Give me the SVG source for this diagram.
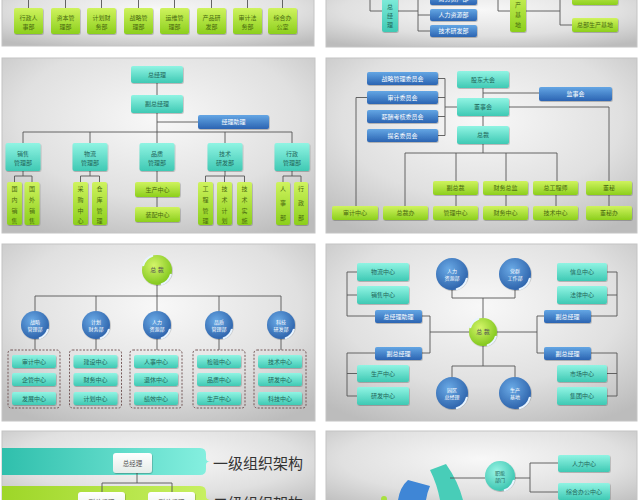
<svg xmlns="http://www.w3.org/2000/svg" width="640" height="500" viewBox="0 0 640 500">
<defs>
<radialGradient id="pg" cx="50%" cy="35%" r="75%"><stop offset="0" stop-color="#f8f8f8"/><stop offset="0.6" stop-color="#e0e0e0"/><stop offset="1" stop-color="#bcbcbc"/></radialGradient>
<linearGradient id="gG" x1="0" y1="0" x2="0" y2="1"><stop offset="0" stop-color="#cff35e"/><stop offset="1" stop-color="#8ccf1d"/></linearGradient>
<linearGradient id="gT" x1="0" y1="0" x2="0" y2="1"><stop offset="0" stop-color="#90f4e3"/><stop offset="1" stop-color="#3fc9b4"/></linearGradient>
<linearGradient id="gB" x1="0" y1="0" x2="0" y2="1"><stop offset="0" stop-color="#64a6e4"/><stop offset="1" stop-color="#2b64b2"/></linearGradient>
<radialGradient id="gBC" cx="40%" cy="35%" r="70%"><stop offset="0" stop-color="#6aaae6"/><stop offset="1" stop-color="#2a5fa8"/></radialGradient>
<radialGradient id="gGC" cx="40%" cy="35%" r="70%"><stop offset="0" stop-color="#d4f56a"/><stop offset="1" stop-color="#7cc418"/></radialGradient>
<radialGradient id="gTC" cx="40%" cy="35%" r="70%"><stop offset="0" stop-color="#9af5e6"/><stop offset="1" stop-color="#36c2ad"/></radialGradient>
<linearGradient id="bandT" x1="0" y1="0" x2="1" y2="0"><stop offset="0" stop-color="#2fbfac"/><stop offset="1" stop-color="#86f0e0"/></linearGradient>
<linearGradient id="bandG" x1="0" y1="0" x2="1" y2="0"><stop offset="0" stop-color="#9ed628"/><stop offset="1" stop-color="#c8f062"/></linearGradient>
<linearGradient id="gW" x1="0" y1="0" x2="0" y2="1"><stop offset="0" stop-color="#ffffff"/><stop offset="1" stop-color="#e4ece9"/></linearGradient>
<filter id="sh" x="-20%" y="-20%" width="140%" height="150%"><feDropShadow dx="0.6" dy="0.8" stdDeviation="0.6" flood-color="#000" flood-opacity="0.28"/></filter>
<style>
.pn{fill:url(#pg);stroke:#c4c4c4;stroke-width:1}
.ln{fill:none;stroke:#555;stroke-width:0.9}
.gb{fill:url(#gG);filter:url(#sh)}
.tb{fill:url(#gT);filter:url(#sh)}
.bb{fill:url(#gB);filter:url(#sh)}
.wb{fill:url(#gW);filter:url(#sh)}
.bc{fill:url(#gBC);filter:url(#sh)}
.gc{fill:url(#gGC);filter:url(#sh)}
.tc{fill:url(#gTC);filter:url(#sh)}
.cr{fill:none;stroke:#e8f4ff;stroke-width:2}
.dg{fill:none;stroke:#6a4b4b;stroke-width:0.9;stroke-dasharray:2 1.5}
text{font-family:"Liberation Sans","Noto Sans CJK SC",sans-serif;font-size:6px;text-anchor:middle;dominant-baseline:central}
.tg{fill:#4a6a10}
.tt{fill:#22665a}
.tw{fill:#ffffff}
.td{fill:#555}
.big{font-size:15px;text-anchor:start;fill:#333}
</style>
</defs>
<rect width="640" height="500" fill="#ffffff"/>
<g id="panels">
<rect class="pn" x="2" y="-10" width="312" height="56"/>
<rect class="pn" x="326" y="-10" width="311" height="57"/>
<rect class="pn" x="2" y="58" width="313" height="175"/>
<rect class="pn" x="326" y="58" width="311" height="175"/>
<rect class="pn" x="2" y="244" width="313" height="177"/>
<rect class="pn" x="326" y="244" width="311" height="177"/>
<rect class="pn" x="2" y="431" width="313" height="80"/>
<rect class="pn" x="326" y="431" width="311" height="80"/>
</g>
<g id="bands">
<path d="M2,448 H200 Q206,448 206,454 V458 Q206,461.5 210,461.5 Q206,461.5 206,465 V469 Q206,475 200,475 H2 Z" fill="url(#bandT)"/>
<path d="M2,486 H200 Q206,486 206,492 V496 Q206,499.5 210,499.5 Q206,499.5 206,503 V507 Q206,513 200,513 H2 Z" fill="url(#bandG)"/>
<path d="M430,470 L446,464 Q458,481 463,500 L440,500 Q437,484 430,470 Z" fill="#48cdb8"/>
<path d="M398,500 Q400,487 408,480 L430,486 Q427,493 426,500 Z" fill="#3f86d6"/>
<circle cx="384" cy="499" r="3" fill="#a8e040"/>
</g>
<g id="connectors">
<path class="ln" d="M28.5,0 V8 M65.5,0 V8 M101.5,0 V8 M138.5,0 V8 M174.5,0 V8 M211.5,0 V8 M247.5,0 V8 M282.5,0 V8"/>
<path class="ln" d="M370,-2 V11 H382 M398,11 H418 M418,-2 V31 M418,-1 H430 M418,15 H430 M418,31 H430"/>
<path class="ln" d="M498,-2 V11 H510 M526,11 H560 M560,-2 V25 H572 M560,-1 H572"/>
<path class="ln" d="M157,83 V95 M157,113 V132 M157,122 H198 M23,132 H292 M23,132 V143 M90,132 V143 M157,132 V143 M225,132 V143 M292,132 V143"/>
<path class="ln" d="M23,171 V176 M14.5,176 H32 M14.5,176 V182 M32,176 V182 M90,171 V176 M80.5,176 H99.5 M80.5,176 V182 M99.5,176 V182 M157,171 V207 M225,171 V176 M205.5,176 H244.5 M205.5,176 V182 M224.5,176 V182 M244.5,176 V182 M292,171 V176 M283,176 H301 M283,176 V182 M301,176 V182"/>
<path class="ln" d="M438,78.5 H445 M438,97.5 H445 M438,116.5 H445 M438,135.5 H445 M445,78.5 V135.5 M445,107 H457 M483,88 V98 M483,116 V126 M483,93 H539 M509,107 H609 V181 M367,97.5 H356 V206 M483,144 V153 M405,153 H557 M405,153 V206 M456,153 V181 M506,153 V181 M557,153 V181 M456,195 V206 M506,195 V206 M556,195 V206 M609,195 V206"/>
<path class="ln" d="M157,285 V296 M35,296 H281 M35,296 V311 M96,296 V311 M157,296 V311 M219,296 V311 M281,296 V311 M35,339 V350 M96,339 V350 M157,339 V350 M219,339 V350 M281,339 V350"/>
<path class="ln" d="M357,272 H347 M357,295 H347 M347,272 V316 H375 M422,316 H430 V353 H422 M430,332 H469 M452,290 V298 H515 V290 M483,298 V318 M607,272 H617 M607,295 H617 M617,272 V316 H591 M544,316 H537 V353 H544 M537,332 H497 M375,353 H347 V396 H357 M347,373.5 H357 M591,353 H617 V396 H607 M617,373.5 H607 M483,346 V366 M452,366 H515 M452,366 V377 M515,366 V377"/>
<path class="ln" d="M137,473 V483 M102,483 H172 M102,483 V492 M172,483 V492"/>
<path class="ln" d="M450,478 H485 M515,478 H530 M530,463 V492 M530,463 H558 M530,492 H558"/>
</g>
<g id="p1">
<g id="a1"><rect class="gb" x="14" y="8" width="29" height="26" rx="2"/><text class="tg" x="28.5" y="17.5">行政人</text><text class="tg" x="28.5" y="27">事部</text></g>
<g id="a2"><rect class="gb" x="51" y="8" width="29" height="26" rx="2"/><text class="tg" x="65.5" y="17.5">资本管</text><text class="tg" x="65.5" y="27">理部</text></g>
<g id="a3"><rect class="gb" x="87" y="8" width="29" height="26" rx="2"/><text class="tg" x="101.5" y="17.5">计划财</text><text class="tg" x="101.5" y="27">务部</text></g>
<g id="a4"><rect class="gb" x="124" y="8" width="29" height="26" rx="2"/><text class="tg" x="138.5" y="17.5">战略管</text><text class="tg" x="138.5" y="27">理部</text></g>
<g id="a5"><rect class="gb" x="160" y="8" width="29" height="26" rx="2"/><text class="tg" x="174.5" y="17.5">运维管</text><text class="tg" x="174.5" y="27">理部</text></g>
<g id="a6"><rect class="gb" x="197" y="8" width="29" height="26" rx="2"/><text class="tg" x="211.5" y="17.5">产品研</text><text class="tg" x="211.5" y="27">发部</text></g>
<g id="a7"><rect class="gb" x="233" y="8" width="29" height="26" rx="2"/><text class="tg" x="247.5" y="17.5">审计法</text><text class="tg" x="247.5" y="27">务部</text></g>
<g id="a8"><rect class="gb" x="268" y="8" width="29" height="26" rx="2"/><text class="tg" x="282.5" y="17.5">综合办</text><text class="tg" x="282.5" y="27">公室</text></g>
</g>
<g id="p2">
<g id="b1"><rect class="tb" x="382" y="-10" width="16" height="42" rx="2"/><text class="tt" x="390" y="7">总</text><text class="tt" x="390" y="16">经</text><text class="tt" x="390" y="25">理</text></g>
<g id="b2"><rect class="bb" x="430" y="-8" width="47" height="13" rx="2"/><text class="tw" x="453.5" y="-1.5">财务资产部</text></g>
<g id="b3"><rect class="bb" x="430" y="9" width="47" height="12" rx="2"/><text class="tw" x="453.5" y="15">人力资源部</text></g>
<g id="b4"><rect class="bb" x="430" y="25" width="47" height="12" rx="2"/><text class="tw" x="453.5" y="31">技术研发部</text></g>
<g id="b5"><rect class="gb" x="510" y="-10" width="16" height="42" rx="2"/><text class="tg" x="518" y="5">产</text><text class="tg" x="518" y="15">基</text><text class="tg" x="518" y="25">地</text></g>
<g id="b6"><rect class="gb" x="572" y="-8" width="46" height="13" rx="2"/></g>
<g id="b7"><rect class="gb" x="572" y="18" width="46" height="14" rx="2"/><text class="tg" x="595" y="25">总部生产基地</text></g>
</g>
<g id="p3">
<g id="c1"><rect class="tb" x="131" y="66" width="52" height="17" rx="2"/><text class="tt" x="157" y="74.5">总经理</text></g>
<g id="c2"><rect class="tb" x="131" y="95" width="52" height="18" rx="2"/><text class="tt" x="157" y="104">副总经理</text></g>
<g id="c3"><rect class="bb" x="198" y="115" width="71" height="14" rx="2"/><text class="tw" x="233.5" y="122">经理助理</text></g>
<g id="c4"><rect class="tb" x="5.5" y="143" width="35" height="28" rx="2"/><text class="tt" x="23" y="153.5">销售</text><text class="tt" x="23" y="163">管理部</text></g>
<g id="c5"><rect class="tb" x="72.5" y="143" width="35" height="28" rx="2"/><text class="tt" x="90" y="153.5">物流</text><text class="tt" x="90" y="163">管理部</text></g>
<g id="c6"><rect class="tb" x="139.5" y="143" width="35" height="28" rx="2"/><text class="tt" x="157" y="153.5">品质</text><text class="tt" x="157" y="163">管理部</text></g>
<g id="c7"><rect class="tb" x="207.5" y="143" width="35" height="28" rx="2"/><text class="tt" x="225" y="153.5">技术</text><text class="tt" x="225" y="163">研发部</text></g>
<g id="c8"><rect class="tb" x="274.5" y="143" width="35" height="28" rx="2"/><text class="tt" x="292" y="153.5">行政</text><text class="tt" x="292" y="163">管理部</text></g>
<g id="c9"><rect class="gb" x="7" y="182" width="15" height="43" rx="2"/><text class="tg" x="14.5" y="189">国</text><text class="tg" x="14.5" y="200">内</text><text class="tg" x="14.5" y="211">销</text><text class="tg" x="14.5" y="221">售</text></g>
<g id="c10"><rect class="gb" x="24.5" y="182" width="15" height="43" rx="2"/><text class="tg" x="32" y="189">国</text><text class="tg" x="32" y="200">外</text><text class="tg" x="32" y="211">销</text><text class="tg" x="32" y="221">售</text></g>
<g id="c11"><rect class="gb" x="73" y="182" width="15" height="43" rx="2"/><text class="tg" x="80.5" y="189">采</text><text class="tg" x="80.5" y="200">购</text><text class="tg" x="80.5" y="211">中</text><text class="tg" x="80.5" y="221">心</text></g>
<g id="c12"><rect class="gb" x="92" y="182" width="15" height="43" rx="2"/><text class="tg" x="99.5" y="189">仓</text><text class="tg" x="99.5" y="200">库</text><text class="tg" x="99.5" y="211">管</text><text class="tg" x="99.5" y="221">理</text></g>
<g id="c13"><rect class="gb" x="135" y="182" width="45" height="15" rx="2"/><text class="tg" x="157.5" y="189.5">生产中心</text></g>
<g id="c14"><rect class="gb" x="135" y="207" width="45" height="15" rx="2"/><text class="tg" x="157.5" y="214.5">装配中心</text></g>
<g id="c15"><rect class="gb" x="198" y="182" width="15" height="43" rx="2"/><text class="tg" x="205.5" y="189">工</text><text class="tg" x="205.5" y="200">程</text><text class="tg" x="205.5" y="211">管</text><text class="tg" x="205.5" y="221">理</text></g>
<g id="c16"><rect class="gb" x="217" y="182" width="15" height="43" rx="2"/><text class="tg" x="224.5" y="189">技</text><text class="tg" x="224.5" y="200">术</text><text class="tg" x="224.5" y="211">计</text><text class="tg" x="224.5" y="221">划</text></g>
<g id="c17"><rect class="gb" x="237" y="182" width="15" height="43" rx="2"/><text class="tg" x="244.5" y="189">技</text><text class="tg" x="244.5" y="200">术</text><text class="tg" x="244.5" y="211">实</text><text class="tg" x="244.5" y="221">施</text></g>
<g id="c18"><rect class="gb" x="276" y="182" width="14" height="43" rx="2"/><text class="tg" x="283" y="189">人</text><text class="tg" x="283" y="203">事</text><text class="tg" x="283" y="218">部</text></g>
<g id="c19"><rect class="gb" x="294" y="182" width="14" height="43" rx="2"/><text class="tg" x="301" y="189">行</text><text class="tg" x="301" y="203">政</text><text class="tg" x="301" y="218">部</text></g>
</g>
<g id="p4">
<g id="d1"><rect class="bb" x="367" y="72" width="71" height="13" rx="2"/><text class="tw" x="402.5" y="78.5">战略管理委员会</text></g>
<g id="d2"><rect class="bb" x="367" y="91" width="71" height="13" rx="2"/><text class="tw" x="402.5" y="97.5">审计委员会</text></g>
<g id="d3"><rect class="bb" x="367" y="110" width="71" height="13" rx="2"/><text class="tw" x="402.5" y="116.5">薪酬考核委员会</text></g>
<g id="d4"><rect class="bb" x="367" y="129" width="71" height="13" rx="2"/><text class="tw" x="402.5" y="135.5">提名委员会</text></g>
<g id="d5"><rect class="tb" x="457" y="71" width="52" height="17" rx="2"/><text class="tt" x="483" y="79.5">股东大会</text></g>
<g id="d6"><rect class="tb" x="457" y="98" width="52" height="18" rx="2"/><text class="tt" x="483" y="107">董事会</text></g>
<g id="d7"><rect class="tb" x="457" y="126" width="52" height="18" rx="2"/><text class="tt" x="483" y="135">总裁</text></g>
<g id="d8"><rect class="bb" x="539" y="87" width="73" height="14" rx="2"/><text class="tw" x="575.5" y="94">监事会</text></g>
<g id="d9"><rect class="gb" x="433" y="181" width="45" height="14" rx="2"/><text class="tg" x="455.5" y="188">副总裁</text></g>
<g id="d10"><rect class="gb" x="483" y="181" width="45" height="14" rx="2"/><text class="tg" x="505.5" y="188">财务总监</text></g>
<g id="d11"><rect class="gb" x="533" y="181" width="45" height="14" rx="2"/><text class="tg" x="555.5" y="188">总工程师</text></g>
<g id="d12"><rect class="gb" x="586" y="181" width="46" height="14" rx="2"/><text class="tg" x="609" y="188">董秘</text></g>
<g id="d13"><rect class="gb" x="332" y="206" width="46" height="14" rx="2"/><text class="tg" x="355" y="213">审计中心</text></g>
<g id="d14"><rect class="gb" x="383" y="206" width="45" height="14" rx="2"/><text class="tg" x="405.5" y="213">总裁办</text></g>
<g id="d15"><rect class="gb" x="433" y="206" width="45" height="14" rx="2"/><text class="tg" x="455.5" y="213">管理中心</text></g>
<g id="d16"><rect class="gb" x="483" y="206" width="45" height="14" rx="2"/><text class="tg" x="505.5" y="213">财务中心</text></g>
<g id="d17"><rect class="gb" x="533" y="206" width="45" height="14" rx="2"/><text class="tg" x="555.5" y="213">技术中心</text></g>
<g id="d18"><rect class="gb" x="586" y="206" width="46" height="14" rx="2"/><text class="tg" x="609" y="213">董秘办</text></g>
</g>
<g id="p5">
<g id="e0" transform="translate(157,270)"><circle class="gc" r="15"/><path class="cr" d="M14,4 A15,15 0 0 1 4,14.5 M-14,-4 A15,15 0 0 1 -4,-14.5"/><text class="td" y="0">总 裁</text></g>
<g id="e1" transform="translate(35,325)"><circle class="bc" r="14"/><path class="cr" d="M13,4 A14,14 0 0 1 4,13.5"/><text class="tw" y="-3.5" style="font-size:5px">战略</text><text class="tw" y="3.5" style="font-size:5px">管理部</text></g>
<g id="e2" transform="translate(96,325)"><circle class="bc" r="14"/><path class="cr" d="M13,4 A14,14 0 0 1 4,13.5"/><text class="tw" y="-3.5" style="font-size:5px">计划</text><text class="tw" y="3.5" style="font-size:5px">财务部</text></g>
<g id="e3" transform="translate(157,325)"><circle class="bc" r="14"/><path class="cr" d="M13,4 A14,14 0 0 1 4,13.5"/><text class="tw" y="-3.5" style="font-size:5px">人力</text><text class="tw" y="3.5" style="font-size:5px">资源部</text></g>
<g id="e4" transform="translate(219,325)"><circle class="bc" r="14"/><path class="cr" d="M13,4 A14,14 0 0 1 4,13.5"/><text class="tw" y="-3.5" style="font-size:5px">品质</text><text class="tw" y="3.5" style="font-size:5px">管理部</text></g>
<g id="e5" transform="translate(281,325)"><circle class="bc" r="14"/><path class="cr" d="M13,4 A14,14 0 0 1 4,13.5"/><text class="tw" y="-3.5" style="font-size:5px">科技</text><text class="tw" y="3.5" style="font-size:5px">研发部</text></g>
<g id="e6"><rect class="dg" x="8" y="350" width="52" height="58" rx="3"/><rect class="tb" x="12" y="355" width="44" height="13" rx="2"/><text class="tt" x="34" y="361.5">审计中心</text><rect class="tb" x="12" y="373" width="44" height="13" rx="2"/><text class="tt" x="34" y="379.5">企管中心</text><rect class="tb" x="12" y="392" width="44" height="13" rx="2"/><text class="tt" x="34" y="398.5">发展中心</text></g>
<g id="e7"><rect class="dg" x="69.5" y="350" width="52" height="58" rx="3"/><rect class="tb" x="73.5" y="355" width="44" height="13" rx="2"/><text class="tt" x="95.5" y="361.5">建设中心</text><rect class="tb" x="73.5" y="373" width="44" height="13" rx="2"/><text class="tt" x="95.5" y="379.5">财务中心</text><rect class="tb" x="73.5" y="392" width="44" height="13" rx="2"/><text class="tt" x="95.5" y="398.5">计划中心</text></g>
<g id="e8"><rect class="dg" x="130" y="350" width="52" height="58" rx="3"/><rect class="tb" x="134" y="355" width="44" height="13" rx="2"/><text class="tt" x="156" y="361.5">人事中心</text><rect class="tb" x="134" y="373" width="44" height="13" rx="2"/><text class="tt" x="156" y="379.5">退休中心</text><rect class="tb" x="134" y="392" width="44" height="13" rx="2"/><text class="tt" x="156" y="398.5">绩效中心</text></g>
<g id="e9"><rect class="dg" x="193" y="350" width="52" height="58" rx="3"/><rect class="tb" x="197" y="355" width="44" height="13" rx="2"/><text class="tt" x="219" y="361.5">检验中心</text><rect class="tb" x="197" y="373" width="44" height="13" rx="2"/><text class="tt" x="219" y="379.5">品质中心</text><rect class="tb" x="197" y="392" width="44" height="13" rx="2"/><text class="tt" x="219" y="398.5">生产中心</text></g>
<g id="e10"><rect class="dg" x="254" y="350" width="52" height="58" rx="3"/><rect class="tb" x="258" y="355" width="44" height="13" rx="2"/><text class="tt" x="280" y="361.5">技术中心</text><rect class="tb" x="258" y="373" width="44" height="13" rx="2"/><text class="tt" x="280" y="379.5">研发中心</text><rect class="tb" x="258" y="392" width="44" height="13" rx="2"/><text class="tt" x="280" y="398.5">科技中心</text></g>
</g>
<g id="p6">
<g id="f1"><rect class="tb" x="357" y="263" width="52" height="18" rx="2"/><text class="tt" x="383" y="272">物流中心</text></g>
<g id="f2"><rect class="tb" x="357" y="286" width="52" height="18" rx="2"/><text class="tt" x="383" y="295">销售中心</text></g>
<g id="f3"><rect class="bb" x="375" y="310" width="47" height="13" rx="2"/><text class="tw" x="398.5" y="316.5">总经理助理</text></g>
<g id="f4" transform="translate(452,274)"><circle class="bc" r="16"/><path class="cr" d="M15,4 A16,16 0 0 1 4,15.5"/><text class="tw" y="-3.5" style="font-size:5px">人力</text><text class="tw" y="3.5" style="font-size:5px">资源部</text></g>
<g id="f5" transform="translate(515,274)"><circle class="bc" r="16"/><path class="cr" d="M15,4 A16,16 0 0 1 4,15.5"/><text class="tw" y="-3.5" style="font-size:5px">党群</text><text class="tw" y="3.5" style="font-size:5px">工作部</text></g>
<g id="f6"><rect class="tb" x="557" y="263" width="50" height="18" rx="2"/><text class="tt" x="582" y="272">信息中心</text></g>
<g id="f7"><rect class="tb" x="557" y="286" width="50" height="18" rx="2"/><text class="tt" x="582" y="295">法律中心</text></g>
<g id="f8"><rect class="bb" x="544" y="310" width="47" height="13" rx="2"/><text class="tw" x="567.5" y="316.5">副总经理</text></g>
<g id="f9" transform="translate(483,332)"><circle class="gc" r="14"/><path class="cr" d="M13,4 A14,14 0 0 1 4,13.5 M-13,-4 A14,14 0 0 1 -4,-13.5"/><text class="td" y="0">总 裁</text></g>
<g id="f10"><rect class="bb" x="375" y="347" width="47" height="13" rx="2"/><text class="tw" x="398.5" y="353.5">副总经理</text></g>
<g id="f11"><rect class="tb" x="357" y="365" width="52" height="17" rx="2"/><text class="tt" x="383" y="373.5">生产中心</text></g>
<g id="f12"><rect class="tb" x="357" y="387" width="52" height="18" rx="2"/><text class="tt" x="383" y="396">研发中心</text></g>
<g id="f13"><rect class="bb" x="544" y="347" width="47" height="13" rx="2"/><text class="tw" x="567.5" y="353.5">副总经理</text></g>
<g id="f14"><rect class="tb" x="557" y="365" width="50" height="17" rx="2"/><text class="tt" x="582" y="373.5">市场中心</text></g>
<g id="f15"><rect class="tb" x="557" y="387" width="50" height="18" rx="2"/><text class="tt" x="582" y="396">集团中心</text></g>
<g id="f16" transform="translate(452,393)"><circle class="bc" r="16"/><path class="cr" d="M15,4 A16,16 0 0 1 4,15.5"/><text class="tw" y="-3.5" style="font-size:5px">园区</text><text class="tw" y="3.5" style="font-size:5px">总经理</text></g>
<g id="f17" transform="translate(515,393)"><circle class="bc" r="16"/><path class="cr" d="M15,4 A16,16 0 0 1 4,15.5"/><text class="tw" y="-3.5" style="font-size:5px">生产</text><text class="tw" y="3.5" style="font-size:5px">基地</text></g>
</g>
<g id="p7">
<text class="big" x="213" y="463">一级组织架构</text>
<text class="big" x="213" y="503">二级组织架构</text>
<g id="g1"><rect class="wb" x="113" y="453" width="39" height="20" rx="3"/><text class="td" x="132.5" y="463" style="font-size:6.5px">总经理</text></g>
<g id="g2"><rect class="wb" x="78" y="492" width="47" height="20" rx="3"/><text class="td" x="101.5" y="502" style="font-size:6.5px">副总经理</text></g>
<g id="g3"><rect class="wb" x="148" y="492" width="47" height="20" rx="3"/><text class="td" x="171.5" y="502" style="font-size:6.5px">副总经理</text></g>
</g>
<g id="p8">
<g id="h1" transform="translate(500,476)"><circle class="tc" r="15"/><path class="cr" d="M14,4 A15,15 0 0 1 4,14.5"/><text class="tt" y="-3.5" style="font-size:5px">职能</text><text class="tt" y="3.5" style="font-size:5px">部门</text></g>
<g id="h2"><rect class="tb" x="558" y="455" width="52" height="17" rx="2"/><text class="tt" x="584" y="463.5">人力中心</text></g>
<g id="h3"><rect class="tb" x="558" y="483" width="52" height="17" rx="2"/><text class="tt" x="584" y="491.5">综合办公中心</text></g>
</g>
</svg>
